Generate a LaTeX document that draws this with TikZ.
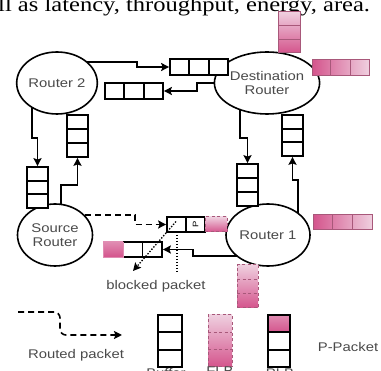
\documentclass[tikz,border=0pt]{standalone}
\usepackage{fontspec}
\newfontfamily\lbl[FakeStretch=1.18]{Liberation Sans}
\newfontfamily\serifcap[FakeStretch=1.18]{Liberation Serif}
\usetikzlibrary{arrows.meta,calc,shapes.geometric}
\pgfdeclarelayer{bg}
\pgfsetlayers{bg,main}
\definecolor{pinkD}{HTML}{D4548C}
\definecolor{pinkL}{HTML}{EFCFDF}
\definecolor{pinkM}{HTML}{E08CB2}
\definecolor{pinkLine}{HTML}{A8587A}
\definecolor{txt}{HTML}{4A4A4A}
\tikzset{
  router/.style={ellipse, draw, line width=1.6, fill=white, inner sep=0,
    font=\lbl\fontsize{12.6}{13.5}\selectfont, text=txt, align=center},
  lab/.style={font=\lbl\fontsize{12.6}{13.5}\selectfont, text=txt, inner sep=0},
  buf/.style={draw, line width=1.7, fill=white, inner sep=0},
  conn/.style={line width=1.6, black},
  arr/.style={conn, -{Stealth[length=8,width=8,inset=1.5]}},
  dsh/.style={dash pattern=on 6 off 4},
  dotl/.style={line width=1.3, dash pattern=on 1.4 off 1.6},
  pinkv/.style={draw=pinkLine, line width=1, top color=pinkL, bottom color=pinkD, inner sep=0},
  pinkh/.style={draw=pinkLine, line width=1, left color=pinkD, right color=pinkL, inner sep=0},
  hthree/.style={path picture={
    \foreach \f in {0.3333,0.6667}{
      \draw[#1] ($(path picture bounding box.north west)!\f!(path picture bounding box.north east)$) --
                ($(path picture bounding box.south west)!\f!(path picture bounding box.south east)$);}}},
  vthree/.style={path picture={
    \foreach \f in {0.3333,0.6667}{
      \draw[#1] ($(path picture bounding box.north west)!\f!(path picture bounding box.south west)$) --
                ($(path picture bounding box.north east)!\f!(path picture bounding box.south east)$);}}},
  htwo/.style={path picture={
      \draw[#1] (path picture bounding box.north) -- (path picture bounding box.south);}},
  blk/.style={line width=1.7, black},
  pnk/.style={line width=1, pinkLine},
  pnkd/.style={line width=1, pinkLine, dash pattern=on 3 off 2.5},
}
\begin{document}
\begin{tikzpicture}[x=1pt,y=-1pt]
\useasboundingbox (0,0) rectangle (381,371);
\clip (0,0) rectangle (381,371);

% caption fragment at the top
\node[anchor=base west, inner sep=0, font=\serifcap\fontsize{20.8}{24}\selectfont] (cap) at (-2,12) {ll as latency, throughput, energy, area.};

% routers
\node[router, minimum width=79, minimum height=62] (r2) at (57,83) {Router 2};
\node[router, minimum width=81, minimum height=62] (dest) at (267,83) {Destination\\Router};
\node[router, minimum width=75, minimum height=62] (src) at (55,235) {Source\\Router};
\node[router, minimum width=84, minimum height=62] (r1) at (268,235) {Router 1};

% buffers
\node[buf, hthree=blk, minimum width=58, minimum height=16] (tb) at (199,67) {};
\node[buf, hthree=blk, minimum width=58, minimum height=16] (lb) at (134,91) {};
\node[buf, vthree=blk, minimum width=21, minimum height=41] (sb1) at (37.5,187.5) {};
\node[buf, vthree=blk, minimum width=21, minimum height=42] (sb2) at (77.5,136) {};
\node[buf, vthree=blk, minimum width=21, minimum height=42] (rb1) at (247.5,185) {};
\node[buf, vthree=blk, minimum width=21, minimum height=41] (rb2) at (292.5,135.5) {};

% pink buffers
\node[pinkv, vthree=pnk, minimum width=22, minimum height=41] (dp1) at (289,32.5) {};
\node[pinkh, hthree=pnk, minimum width=57, minimum height=16] (dp2) at (340.5,68) {};
\node[pinkh, hthree=pnk, minimum width=59, minimum height=15] (rp) at (342.5,222.5) {};
\node[pinkv, vthree=pnkd, dash pattern=on 3 off 2.5, minimum width=21, minimum height=43] (flb1) at (247.5,286.5) {};

% central buffers
\node[buf, htwo=blk, minimum width=38, minimum height=15] (cb1) at (186,224.5) {};
\node[inner sep=0, rotate=90, font=\lbl\fontsize{8}{8}\selectfont] (pl) at (195.5,224.5) {P};
\node[draw=pinkLine, line width=1, dash pattern=on 3 off 2.5, top color=pinkL, bottom color=pinkD, inner sep=0, minimum width=22, minimum height=15] (pk1) at (216,224.5) {};
\node[buf, htwo=blk, minimum width=39, minimum height=15] (cb2) at (142.5,249.5) {};
\node[draw=pinkM, line width=0.6, top color=pinkM, bottom color=pinkD, inner sep=0, minimum width=20, minimum height=15] (pk2) at (113,249.5) {};

% connectors (behind routers)
\begin{pgfonlayer}{bg}
\draw[arr] ([yshift=21]r2.center) -- (137,62) -- (137,67) -- (tb.west);
\draw[arr] (dest.center) -- (197,83) -- (197,91) -- (lb.east);
\draw[arr] ([xshift=-25]r2.center) -- (32,138) -| (sb1.north);
\draw[arr] ([xshift=6]src.center) -- (61,185) -| (sb2.south);
\draw[arr] ([xshift=-27]dest.center) -- (240,138) -| (rb1.north);
\draw[arr] ([xshift=30]r1.center) -- (298,180) -| (rb2.south);
\draw[arr] ([yshift=-21]r1.center) -- (193,256) -- (193,249.5) -- (cb2.east);
\draw[arr, dsh] ([yshift=20]src.center) -- (135,215) -- (135,224.5) -- (cb1.west);
\end{pgfonlayer}

% blocked packet
\coordinate (bstart) at (176,221.5);
\coordinate (bend) at (133,271);
\draw[dotl, -{Stealth[length=8,width=8,inset=1.5]}] (bstart) -- (bend);
\coordinate (vtop) at (177,232);
\coordinate (vbot) at (177,273);
\draw[dotl] (vtop) -- (vbot);
\node[lab] (blocked) at (156,286) {blocked packet};

% legend
\coordinate (lg1) at (18,312);
\coordinate (lg2) at (122,335);
\draw[arr, dsh, rounded corners=6] (lg1) -- (60,312) -- (60,335) -- (lg2);
\node[lab] (routed) at (76,355) {Routed packet};

\node[buf, vthree=blk, minimum width=24, minimum height=52] (lbuf) at (170,341) {};
\node[lab] (lbuft) at (166,373.5) {Buffer};

\node[pinkv, vthree=pnkd, dash pattern=on 3 off 2.5, minimum width=24, minimum height=52] (lflb) at (220,341) {};
\node[lab] (lflbt) at (220,371) {FLB};

\node[draw=none, top color=pinkM, bottom color=pinkD, inner sep=0, minimum width=22, minimum height=17.3] (lplbtop) at (279,323.7) {};
\node[draw, line width=1.7, vthree=blk, inner sep=0, minimum width=22, minimum height=52] (lplb) at (279,341) {};
\node[lab] (lplbt) at (280,373.5) {PLB};
\node[lab] (ppk) at (348,347) {P-Packet};
\end{tikzpicture}
\end{document}
